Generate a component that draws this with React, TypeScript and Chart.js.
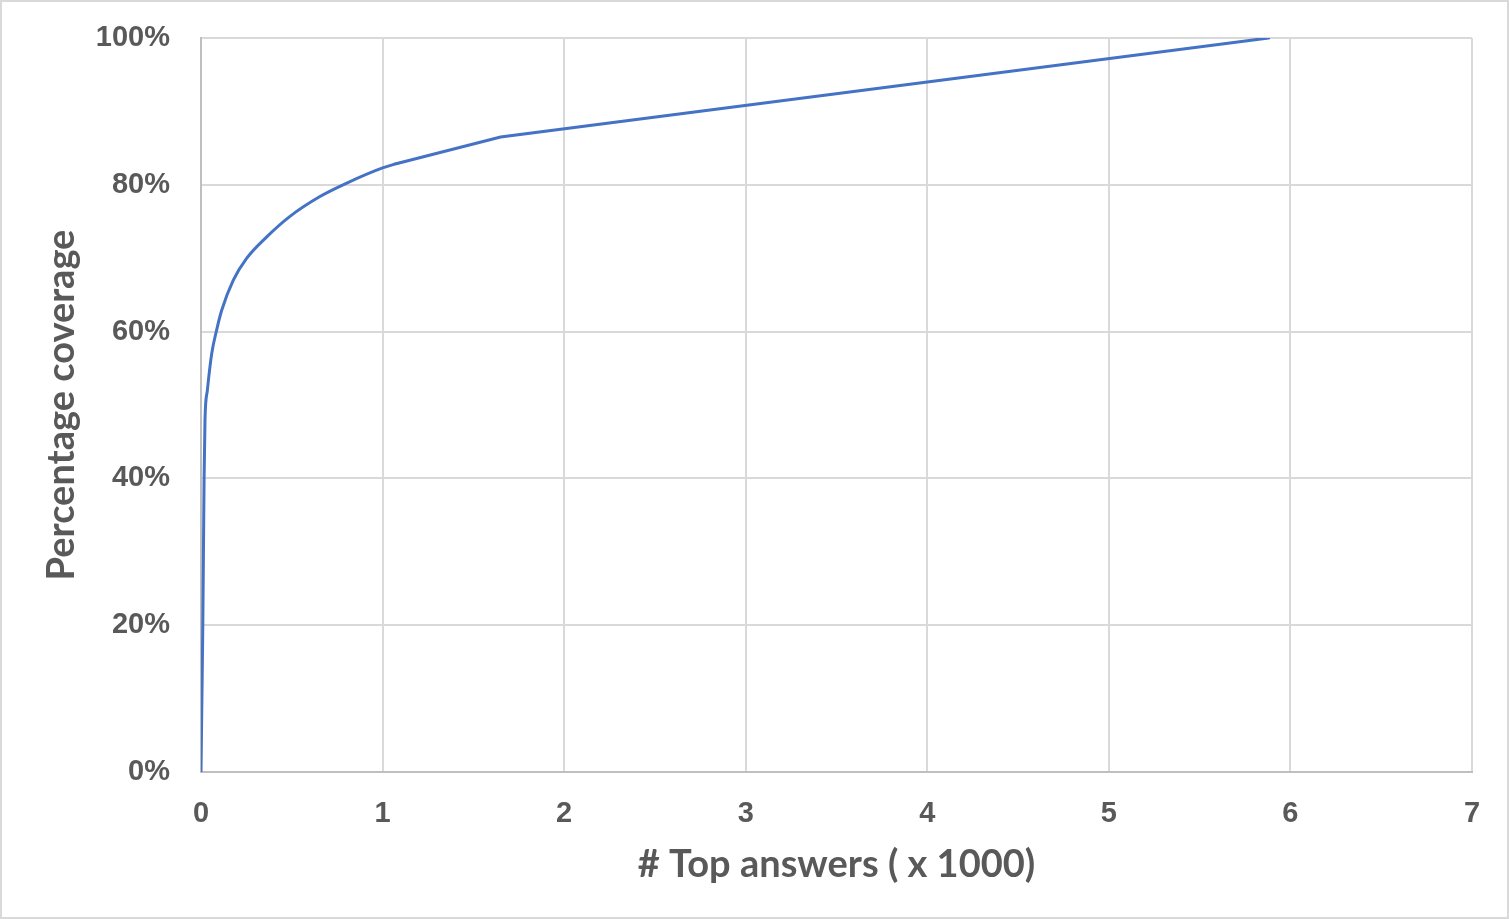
import React, { useEffect, useRef } from "react";
import { Chart, registerables } from "chart.js";

Chart.register(...registerables);

// # top answers (x 1000)
const answersK = [0, 0.005, 0.01, 0.017, 0.022, 0.035, 0.059, 0.086, 0.114, 0.178, 0.252, 0.362, 0.49, 0.655, 0.8, 1.0, 1.08, 1.65, 5.88];
// percentage coverage
const coverage = [0, 10, 20, 40, 48, 52, 57, 60.2, 62.9, 67, 70, 72.9, 75.7, 78.4, 80.2, 82.3, 82.9, 86.5, 100];
// index where the curved head ends and straight tail begins
const smoothEnd = 16;

const xTitle = "# Top answers ( x 1000)";
const yTitle = "Percentage coverage";

const W = 1509;
const H = 919;

export default function App() {
  const ref = useRef<HTMLCanvasElement | null>(null);

  useEffect(() => {
    document.body.style.margin = "0";
    const canvas = ref.current;
    if (!canvas) return;

    const framePlugin = {
      id: "frame",
      beforeDraw(chart: any) {
        const ctx = chart.ctx;
        ctx.save();
        ctx.fillStyle = "#ffffff";
        ctx.fillRect(0, 0, chart.width, chart.height);
        ctx.strokeStyle = "#d9d9d9";
        ctx.lineWidth = 2;
        ctx.strokeRect(1, 1, chart.width - 2, chart.height - 2);
        ctx.restore();
      },
    };

    const tickFont = { family: "'Liberation Sans', Arial, sans-serif", size: 29, weight: "bold" as const };
    const titleFont = { family: "Lato, 'Open Sans', sans-serif", size: 38, weight: "bold" as const };

    const pts = answersK.map((x, i) => ({ x, y: coverage[i] }));

    const chart = new Chart(canvas, {
      type: "line",
      data: {
        datasets: [
          {
            data: pts.slice(0, smoothEnd + 1),
            borderColor: "#4472C4",
            borderWidth: 3,
            pointRadius: 0,
            fill: false,
            cubicInterpolationMode: "monotone",
            borderCapStyle: "round",
          },
          {
            data: pts.slice(smoothEnd),
            borderColor: "#4472C4",
            borderWidth: 3,
            pointRadius: 0,
            fill: false,
            tension: 0,
            borderCapStyle: "round",
          },
        ],
      },
      options: {
        responsive: false,
        animation: false,
        layout: { padding: { top: 38, right: 37, left: 0, bottom: 0 } },
        plugins: {
          legend: { display: false },
          tooltip: { enabled: false },
        },
        scales: {
          x: {
            type: "linear",
            min: 0,
            max: 7,
            ticks: { stepSize: 1, color: "#595959", font: tickFont, padding: 2 },
            grid: { color: "#d9d9d9", lineWidth: 2, drawTicks: true, tickLength: 23, tickColor: "rgba(0,0,0,0)" },
            border: { color: "#bfbfbf", width: 2 },
            title: { display: true, text: xTitle, color: "#595959", font: titleFont, padding: { top: 0, bottom: 31 } },
            afterFit(scale: any) {
              scale.height = 147;
            },
          },
          y: {
            type: "linear",
            min: 0,
            max: 100,
            ticks: {
              stepSize: 20,
              color: "#595959",
              font: tickFont,
              padding: 2,
              callback: (v: any) => v + "%",
            },
            grid: { color: "#d9d9d9", lineWidth: 2, drawTicks: true, tickLength: 29, tickColor: "rgba(0,0,0,0)" },
            border: { color: "#bfbfbf", width: 2 },
            title: { display: true, text: yTitle, color: "#595959", font: titleFont, padding: { top: 39, bottom: 0 } },
            afterFit(scale: any) {
              scale.width = 201;
            },
          },
        },
      },
      plugins: [framePlugin],
    });

    return () => chart.destroy();
  }, []);

  return (
    <div style={{ position: "absolute", left: 0, top: 0, width: W, height: H }}>
      <canvas ref={ref} width={W} height={H} style={{ width: W, height: H, display: "block" }} />
    </div>
  );
}
